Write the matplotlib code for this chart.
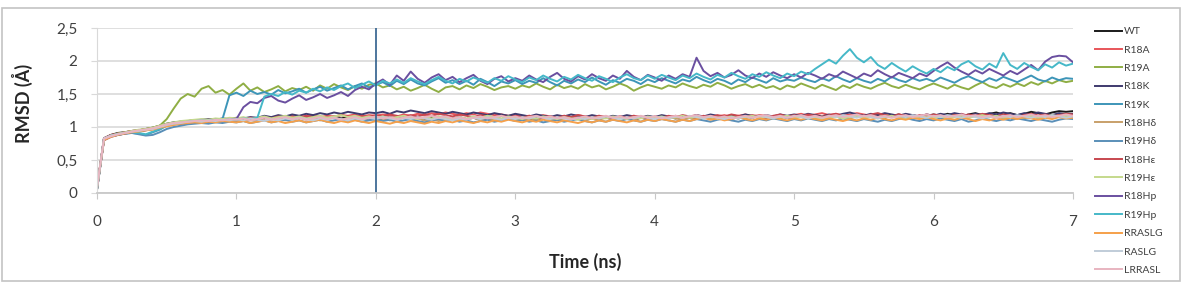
import numpy as np
import matplotlib
matplotlib.use("Agg")
import matplotlib.pyplot as plt
from matplotlib.patches import Rectangle

plt.rcParams['font.family'] = ['Lato', 'DejaVu Sans']

# RMSD traces, one value every 0.05 ns (0 .. 7 ns)
wt = [0.05,0.83,0.88,0.91,0.92,0.94,0.95,0.97,0.99,1.02,1.05,1.07,1.08,1.09,1.10,1.09,1.11,1.12,1.10,1.11,
      1.12,1.10,1.13,1.11,1.14,1.12,1.15,1.13,1.12,1.14,1.13,1.15,1.12,1.14,1.16,1.13,1.15,1.14,1.12,1.13,
      1.11,1.13,1.15,1.12,1.14,1.16,1.13,1.11,1.14,1.12,1.10,1.13,1.15,1.12,1.14,1.11,1.13,1.15,1.12,1.14,
      1.12,1.15,1.13,1.11,1.14,1.16,1.13,1.15,1.12,1.14,1.11,1.13,1.16,1.14,1.12,1.15,1.13,1.11,1.14,1.12,
      1.14,1.12,1.15,1.13,1.16,1.14,1.12,1.15,1.17,1.14,1.12,1.15,1.13,1.16,1.14,1.17,1.15,1.13,1.16,1.14,
      1.15,1.17,1.14,1.16,1.13,1.15,1.18,1.16,1.14,1.17,1.15,1.18,1.16,1.14,1.17,1.19,1.16,1.18,1.15,1.17,
      1.19,1.17,1.20,1.18,1.16,1.19,1.21,1.18,1.20,1.22,1.19,1.21,1.18,1.20,1.23,1.21,1.19,1.22,1.24,1.23,
      1.24]
r18a = [0.08,0.80,0.86,0.89,0.91,0.93,0.94,0.96,0.98,1.00,1.03,1.05,1.07,1.08,1.09,1.10,1.11,1.10,1.12,1.11,
        1.13,1.12,1.14,1.13,1.15,1.14,1.16,1.15,1.17,1.14,1.16,1.18,1.15,1.17,1.16,1.18,1.17,1.19,1.16,1.18,
        1.17,1.19,1.18,1.16,1.19,1.17,1.20,1.18,1.21,1.19,1.22,1.20,1.18,1.21,1.19,1.22,1.20,1.18,1.19,1.17,
        1.18,1.16,1.17,1.15,1.18,1.16,1.14,1.17,1.15,1.18,1.16,1.14,1.17,1.15,1.13,1.16,1.14,1.17,1.15,1.16,
        1.14,1.16,1.15,1.17,1.14,1.16,1.18,1.15,1.17,1.16,1.18,1.15,1.17,1.19,1.16,1.18,1.17,1.15,1.18,1.16,
        1.18,1.20,1.17,1.19,1.21,1.18,1.20,1.17,1.19,1.21,1.19,1.17,1.20,1.18,1.16,1.19,1.17,1.18,1.16,1.19,
        1.17,1.19,1.16,1.18,1.20,1.17,1.19,1.16,1.18,1.15,1.17,1.19,1.16,1.18,1.20,1.17,1.19,1.18,1.16,1.18,
        1.17]
r19a = [0.07,0.82,0.87,0.90,0.92,0.94,0.95,0.97,0.99,1.02,1.12,1.28,1.43,1.50,1.46,1.58,1.62,1.52,1.56,1.49,
        1.58,1.66,1.55,1.60,1.53,1.57,1.62,1.54,1.59,1.56,1.61,1.55,1.63,1.58,1.65,1.60,1.56,1.62,1.58,1.64,
        1.66,1.60,1.63,1.57,1.61,1.55,1.59,1.64,1.58,1.53,1.60,1.62,1.57,1.63,1.59,1.65,1.61,1.56,1.60,1.62,
        1.58,1.63,1.60,1.66,1.61,1.57,1.64,1.59,1.62,1.58,1.65,1.60,1.63,1.57,1.61,1.66,1.62,1.55,1.60,1.64,
        1.61,1.58,1.63,1.60,1.66,1.62,1.59,1.64,1.61,1.67,1.63,1.58,1.62,1.65,1.60,1.64,1.59,1.62,1.57,1.63,
        1.60,1.66,1.62,1.58,1.64,1.60,1.56,1.63,1.59,1.65,1.61,1.58,1.63,1.67,1.62,1.59,1.64,1.60,1.57,1.62,
        1.66,1.62,1.58,1.64,1.60,1.57,1.63,1.68,1.62,1.59,1.65,1.61,1.66,1.62,1.68,1.64,1.70,1.66,1.71,1.68,
        1.70]
r18k = [0.06,0.82,0.87,0.90,0.92,0.93,0.95,0.96,0.98,1.01,1.04,1.06,1.07,1.09,1.10,1.11,1.12,1.11,1.13,1.12,
        1.14,1.13,1.15,1.14,1.17,1.15,1.18,1.16,1.19,1.17,1.20,1.18,1.21,1.19,1.22,1.20,1.23,1.21,1.19,1.22,
        1.21,1.23,1.20,1.24,1.22,1.25,1.23,1.21,1.24,1.22,1.20,1.23,1.21,1.19,1.22,1.20,1.18,1.21,1.19,1.17,
        1.20,1.18,1.16,1.19,1.17,1.15,1.18,1.16,1.19,1.17,1.15,1.18,1.16,1.14,1.17,1.15,1.18,1.16,1.14,1.17,
        1.15,1.18,1.16,1.14,1.17,1.15,1.18,1.16,1.19,1.17,1.15,1.18,1.16,1.19,1.17,1.15,1.18,1.16,1.19,1.17,
        1.19,1.17,1.20,1.18,1.16,1.19,1.17,1.20,1.22,1.19,1.17,1.20,1.18,1.21,1.19,1.17,1.20,1.18,1.16,1.19,
        1.17,1.20,1.18,1.21,1.19,1.17,1.20,1.18,1.21,1.19,1.22,1.20,1.18,1.21,1.19,1.22,1.20,1.18,1.21,1.19,
        1.20]
r19k = [0.06,0.81,0.86,0.88,0.90,0.91,0.90,0.88,0.92,0.96,1.02,1.05,1.07,1.08,1.10,1.09,1.11,1.10,1.12,1.48,
        1.52,1.47,1.55,1.50,1.53,1.49,1.56,1.51,1.54,1.58,1.52,1.57,1.61,1.55,1.59,1.63,1.57,1.62,1.66,1.60,
        1.64,1.68,1.62,1.70,1.65,1.72,1.66,1.63,1.69,1.74,1.67,1.71,1.65,1.70,1.64,1.73,1.68,1.62,1.69,1.66,
        1.71,1.65,1.70,1.67,1.74,1.68,1.63,1.70,1.66,1.72,1.68,1.75,1.69,1.64,1.71,1.67,1.73,1.70,1.65,1.72,
        1.68,1.74,1.70,1.66,1.72,1.69,1.76,1.71,1.67,1.73,1.70,1.65,1.72,1.68,1.75,1.71,1.67,1.74,1.69,1.72,
        1.70,1.75,1.71,1.68,1.74,1.70,1.77,1.72,1.68,1.74,1.70,1.67,1.73,1.69,1.76,1.71,1.68,1.74,1.70,1.73,
        1.69,1.75,1.71,1.67,1.73,1.77,1.72,1.68,1.74,1.70,1.76,1.72,1.68,1.73,1.78,1.72,1.69,1.75,1.71,1.74,
        1.73]
r18hd = [0.07,0.81,0.86,0.89,0.91,0.92,0.94,0.95,0.97,1.00,1.02,1.04,1.05,1.06,1.07,1.08,1.07,1.09,1.08,1.10,
         1.09,1.11,1.10,1.12,1.09,1.11,1.13,1.10,1.12,1.14,1.11,1.13,1.10,1.12,1.14,1.11,1.13,1.15,1.12,1.14,
         1.11,1.13,1.10,1.12,1.14,1.11,1.13,1.10,1.12,1.09,1.11,1.13,1.10,1.12,1.14,1.11,1.13,1.10,1.12,1.14,
         1.12,1.10,1.13,1.11,1.14,1.12,1.10,1.13,1.15,1.12,1.10,1.13,1.11,1.14,1.12,1.15,1.13,1.11,1.14,1.12,
         1.14,1.12,1.15,1.13,1.11,1.14,1.12,1.15,1.13,1.16,1.14,1.12,1.15,1.13,1.16,1.14,1.12,1.15,1.13,1.16,
         1.14,1.17,1.15,1.13,1.16,1.14,1.17,1.15,1.13,1.16,1.14,1.17,1.15,1.18,1.16,1.14,1.17,1.15,1.13,1.16,
         1.14,1.17,1.15,1.18,1.16,1.14,1.17,1.15,1.18,1.16,1.14,1.17,1.15,1.13,1.16,1.14,1.17,1.15,1.18,1.16,
         1.17]
r19hd = [0.06,0.82,0.86,0.88,0.90,0.91,0.89,0.87,0.88,0.92,0.97,1.00,1.02,1.04,1.05,1.06,1.05,1.07,1.06,1.08,
         1.07,1.09,1.06,1.08,1.10,1.07,1.09,1.11,1.08,1.10,1.07,1.09,1.11,1.08,1.10,1.12,1.09,1.11,1.08,1.10,
         1.12,1.09,1.11,1.08,1.10,1.12,1.09,1.07,1.10,1.12,1.09,1.11,1.08,1.10,1.07,1.09,1.11,1.08,1.10,1.12,
         1.09,1.11,1.08,1.10,1.07,1.09,1.11,1.08,1.10,1.12,1.09,1.07,1.10,1.08,1.11,1.09,1.12,1.10,1.08,1.11,
         1.09,1.12,1.10,1.08,1.11,1.09,1.12,1.10,1.08,1.11,1.13,1.10,1.08,1.11,1.09,1.12,1.10,1.13,1.11,1.09,
         1.12,1.10,1.13,1.11,1.09,1.12,1.10,1.13,1.11,1.09,1.12,1.10,1.08,1.11,1.09,1.12,1.14,1.11,1.09,1.12,
         1.10,1.13,1.11,1.09,1.12,1.08,1.10,1.13,1.11,1.09,1.12,1.10,1.13,1.11,1.09,1.12,1.10,1.08,1.11,1.13,
         1.12]
r18he = [0.08,0.83,0.88,0.90,0.92,0.94,0.95,0.97,0.98,1.01,1.04,1.06,1.08,1.09,1.10,1.09,1.11,1.10,1.12,1.11,
         1.13,1.11,1.14,1.12,1.15,1.13,1.16,1.14,1.12,1.15,1.17,1.14,1.16,1.13,1.15,1.18,1.16,1.14,1.17,1.15,
         1.18,1.16,1.19,1.17,1.15,1.18,1.16,1.19,1.17,1.20,1.18,1.16,1.19,1.17,1.15,1.18,1.16,1.14,1.17,1.15,
         1.16,1.14,1.17,1.15,1.13,1.16,1.14,1.17,1.15,1.18,1.16,1.14,1.17,1.15,1.13,1.16,1.14,1.17,1.15,1.13,
         1.16,1.14,1.17,1.15,1.18,1.16,1.14,1.17,1.15,1.18,1.16,1.19,1.17,1.15,1.18,1.16,1.14,1.17,1.19,1.16,
         1.18,1.16,1.19,1.17,1.15,1.18,1.20,1.17,1.15,1.18,1.16,1.19,1.21,1.18,1.16,1.19,1.17,1.15,1.18,1.16,
         1.19,1.17,1.15,1.18,1.16,1.19,1.17,1.20,1.18,1.16,1.19,1.17,1.15,1.18,1.20,1.17,1.19,1.16,1.18,1.20,
         1.19]
r19he = [0.05,0.81,0.87,0.90,0.92,0.94,0.96,0.97,0.99,1.02,1.05,1.07,1.09,1.10,1.11,1.12,1.11,1.13,1.12,1.14,
         1.13,1.15,1.12,1.14,1.16,1.13,1.15,1.17,1.14,1.16,1.13,1.15,1.17,1.14,1.16,1.18,1.15,1.17,1.14,1.16,
         1.14,1.16,1.13,1.15,1.17,1.14,1.12,1.15,1.13,1.16,1.14,1.12,1.15,1.13,1.16,1.14,1.17,1.15,1.13,1.16,
         1.14,1.12,1.15,1.13,1.16,1.14,1.12,1.15,1.13,1.11,1.14,1.12,1.15,1.13,1.16,1.14,1.12,1.15,1.13,1.16,
         1.14,1.16,1.13,1.15,1.17,1.14,1.16,1.13,1.15,1.12,1.14,1.16,1.13,1.15,1.17,1.14,1.16,1.13,1.15,1.17,
         1.14,1.16,1.13,1.15,1.12,1.14,1.16,1.13,1.15,1.17,1.14,1.16,1.13,1.15,1.17,1.14,1.12,1.15,1.13,1.16,
         1.14,1.16,1.13,1.15,1.17,1.14,1.16,1.18,1.15,1.17,1.14,1.16,1.13,1.15,1.17,1.14,1.16,1.18,1.15,1.17,
         1.16]
r18hp = [0.05,0.80,0.85,0.88,0.90,0.92,0.93,0.95,0.97,0.99,1.02,1.04,1.05,1.07,1.08,1.09,1.08,1.10,1.09,1.11,
         1.12,1.30,1.38,1.36,1.44,1.47,1.40,1.37,1.43,1.48,1.41,1.45,1.50,1.44,1.48,1.53,1.47,1.56,1.61,1.57,
         1.66,1.72,1.64,1.78,1.70,1.84,1.73,1.67,1.75,1.80,1.71,1.76,1.68,1.74,1.79,1.70,1.65,1.73,1.77,1.69,
         1.74,1.70,1.78,1.72,1.68,1.76,1.82,1.73,1.69,1.77,1.72,1.80,1.74,1.70,1.78,1.73,1.85,1.76,1.71,1.79,
         1.75,1.70,1.78,1.73,1.80,1.76,2.05,1.85,1.77,1.82,1.75,1.79,1.86,1.78,1.74,1.81,1.76,1.83,1.78,1.74,
         1.80,1.75,1.82,1.78,1.73,1.80,1.76,1.84,1.79,1.74,1.81,1.77,1.86,1.80,1.75,1.82,1.78,1.74,1.81,1.77,
         1.85,1.92,1.98,1.90,1.84,1.79,1.86,1.81,1.88,1.83,1.78,1.85,1.80,1.87,1.94,1.86,1.99,2.06,2.08,2.07,
         1.98]
r19hp = [0.06,0.82,0.87,0.89,0.91,0.92,0.91,0.89,0.93,0.97,1.03,1.05,1.06,1.08,1.09,1.10,1.09,1.11,1.10,1.12,
         1.11,1.13,1.12,1.14,1.46,1.50,1.47,1.53,1.49,1.55,1.52,1.58,1.54,1.60,1.56,1.62,1.66,1.59,1.64,1.69,
         1.63,1.70,1.66,1.72,1.67,1.74,1.69,1.65,1.71,1.76,1.70,1.66,1.73,1.69,1.75,1.71,1.67,1.74,1.70,1.77,
         1.72,1.68,1.75,1.71,1.78,1.73,1.69,1.76,1.72,1.79,1.74,1.70,1.77,1.73,1.68,1.75,1.80,1.74,1.71,1.78,
         1.73,1.79,1.75,1.71,1.78,1.74,1.81,1.76,1.72,1.79,1.75,1.82,1.77,1.73,1.80,1.76,1.83,1.78,1.74,1.81,
         1.77,1.84,1.80,1.88,1.95,2.02,1.96,2.08,2.18,2.05,1.98,2.06,1.94,1.88,1.97,1.90,1.84,1.92,1.86,1.81,
         1.88,1.83,1.91,1.86,1.95,2.00,1.92,1.87,1.96,1.90,2.12,1.94,1.88,1.97,1.91,1.86,1.95,1.90,1.98,1.93,
         1.96]
rraslg = [0.07,0.80,0.85,0.88,0.90,0.92,0.93,0.95,0.96,0.99,1.01,1.03,1.05,1.06,1.07,1.06,1.08,1.07,1.09,1.08,
          1.07,1.09,1.06,1.08,1.10,1.07,1.09,1.06,1.08,1.10,1.07,1.09,1.11,1.08,1.06,1.09,1.07,1.10,1.08,1.06,
          1.09,1.07,1.05,1.08,1.06,1.09,1.07,1.05,1.08,1.06,1.09,1.07,1.10,1.08,1.06,1.09,1.07,1.10,1.08,1.11,
          1.09,1.07,1.10,1.08,1.11,1.09,1.07,1.10,1.08,1.06,1.09,1.07,1.10,1.08,1.11,1.09,1.07,1.10,1.08,1.11,
          1.09,1.12,1.10,1.08,1.11,1.09,1.12,1.14,1.11,1.13,1.10,1.12,1.15,1.12,1.10,1.13,1.11,1.14,1.12,1.10,
          1.13,1.11,1.14,1.12,1.10,1.13,1.11,1.09,1.12,1.10,1.13,1.11,1.14,1.12,1.10,1.13,1.11,1.14,1.12,1.15,
          1.12,1.10,1.13,1.11,1.14,1.12,1.09,1.12,1.10,1.13,1.11,1.14,1.12,1.15,1.13,1.11,1.14,1.12,1.15,1.13,
          1.14]
raslg = [0.06,0.83,0.87,0.89,0.91,0.93,0.94,0.96,0.97,1.00,1.03,1.05,1.06,1.08,1.09,1.08,1.10,1.09,1.11,1.10,
         1.12,1.10,1.13,1.11,1.09,1.12,1.10,1.13,1.11,1.14,1.12,1.10,1.13,1.11,1.14,1.12,1.10,1.13,1.11,1.14,
         1.12,1.15,1.13,1.11,1.14,1.12,1.15,1.13,1.11,1.14,1.12,1.10,1.13,1.11,1.14,1.12,1.15,1.13,1.11,1.14,
         1.12,1.15,1.13,1.16,1.14,1.12,1.15,1.13,1.11,1.14,1.12,1.15,1.13,1.16,1.14,1.12,1.15,1.13,1.16,1.14,
         1.12,1.15,1.13,1.16,1.14,1.17,1.15,1.13,1.16,1.14,1.12,1.15,1.13,1.16,1.14,1.17,1.15,1.13,1.16,1.14,
         1.17,1.15,1.13,1.16,1.14,1.17,1.15,1.18,1.16,1.14,1.17,1.15,1.13,1.16,1.14,1.17,1.15,1.18,1.16,1.14,
         1.17,1.15,1.18,1.16,1.14,1.17,1.15,1.13,1.16,1.14,1.17,1.15,1.18,1.16,1.14,1.17,1.15,1.18,1.16,1.14,
         1.16]
lrrasl = [0.09,0.82,0.86,0.89,0.91,0.93,0.95,0.96,0.98,1.01,1.04,1.06,1.07,1.08,1.09,1.10,1.09,1.11,1.10,1.12,
          1.11,1.13,1.10,1.12,1.14,1.11,1.13,1.15,1.12,1.14,1.11,1.13,1.15,1.12,1.14,1.11,1.13,1.15,1.12,1.14,
          1.16,1.13,1.15,1.12,1.14,1.16,1.13,1.15,1.17,1.14,1.16,1.13,1.15,1.12,1.14,1.16,1.13,1.15,1.17,1.14,
          1.16,1.13,1.15,1.17,1.14,1.16,1.13,1.15,1.12,1.14,1.16,1.13,1.15,1.17,1.14,1.16,1.13,1.15,1.17,1.14,
          1.16,1.13,1.15,1.17,1.14,1.16,1.18,1.15,1.17,1.14,1.16,1.13,1.15,1.17,1.14,1.16,1.18,1.15,1.17,1.14,
          1.16,1.18,1.15,1.17,1.14,1.16,1.18,1.15,1.17,1.19,1.16,1.18,1.15,1.17,1.14,1.16,1.18,1.15,1.17,1.19,
          1.16,1.18,1.15,1.17,1.19,1.16,1.18,1.15,1.17,1.14,1.16,1.18,1.15,1.17,1.19,1.16,1.18,1.15,1.17,1.19,
          1.17]

labels = ['WT', 'R18A', 'R19A', 'R18K', 'R19K', 'R18Hδ', 'R19Hδ', 'R18Hε', 'R19Hε',
          'R18Hp', 'R19Hp', 'RRASLG', 'RASLG', 'LRRASL']
series = [wt, r18a, r19a, r18k, r19k, r18hd, r19hd, r18he, r19he, r18hp, r19hp, rraslg, raslg, lrrasl]
colors = ['#1a1a1a', '#e8555a', '#8fae44', '#3f3a6e', '#3d95b8', '#c8a06a', '#5a8fb8',
          '#c7474f', '#c5d98c', '#6a4fa0', '#45b8c8', '#f5a04a', '#c0ccd8', '#e8b4c0']

time = np.linspace(0, 7, 141)

W, H = 1188, 284
fig = plt.figure(figsize=(W / 100, H / 100), dpi=100)
ax = fig.add_axes([97 / W, 1 - 193 / H, 976 / W, 165 / H])

for y, lab, c in zip(series, labels, colors):
    ax.plot(time, y, color=c, lw=1.4, label=lab)

# marker line at 2 ns
ax.axvline(2, color='#2f5f8c', lw=1.2)

ax.set_xlim(0, 7)
ax.set_ylim(0, 2.5)
ax.set_xticks(range(0, 8))
ax.set_yticks([0, 0.5, 1, 1.5, 2, 2.5])
ax.set_yticklabels(['0', '0,5', '1', '1,5', '2', '2,5'])
ax.grid(axis='y', color='#d9d9d9', lw=1.2)
ax.set_axisbelow(True)
for s in ['top', 'right']:
    ax.spines[s].set_visible(False)
ax.spines['left'].set_color('#d9d9d9')
ax.spines['bottom'].set_color('#c8c8c8')
ax.spines['bottom'].set_linewidth(1.3)
ax.tick_params(axis='x', length=4, color='#c8c8c8', pad=12, labelsize=11, labelcolor='#404040')
ax.tick_params(axis='y', length=4, color='#d9d9d9', pad=10, labelsize=11, labelcolor='#404040')

ax.set_xlabel('Time (ns)', fontsize=13, fontweight='bold', color='#262626')
ax.xaxis.set_label_coords(0.5, -0.36)
ax.set_ylabel('RMSD (Å)', fontsize=13, fontweight='bold', color='#262626')
ax.yaxis.set_label_coords(-0.066, 0.54)

fig.legend(loc='upper left', bbox_to_anchor=(1095 / W, 1 - 27 / H), frameon=False,
           fontsize=7.5, handlelength=2.6, handletextpad=0.15, labelspacing=0.87,
           borderpad=0, borderaxespad=0, labelcolor='#404040')

fig.patches.append(Rectangle((2 / W, 1 - 281 / H), 1178 / W, 273 / H, transform=fig.transFigure,
                             fill=False, edgecolor='#c4c4c4', lw=1.2))

fig.savefig('out.png', dpi=100)
